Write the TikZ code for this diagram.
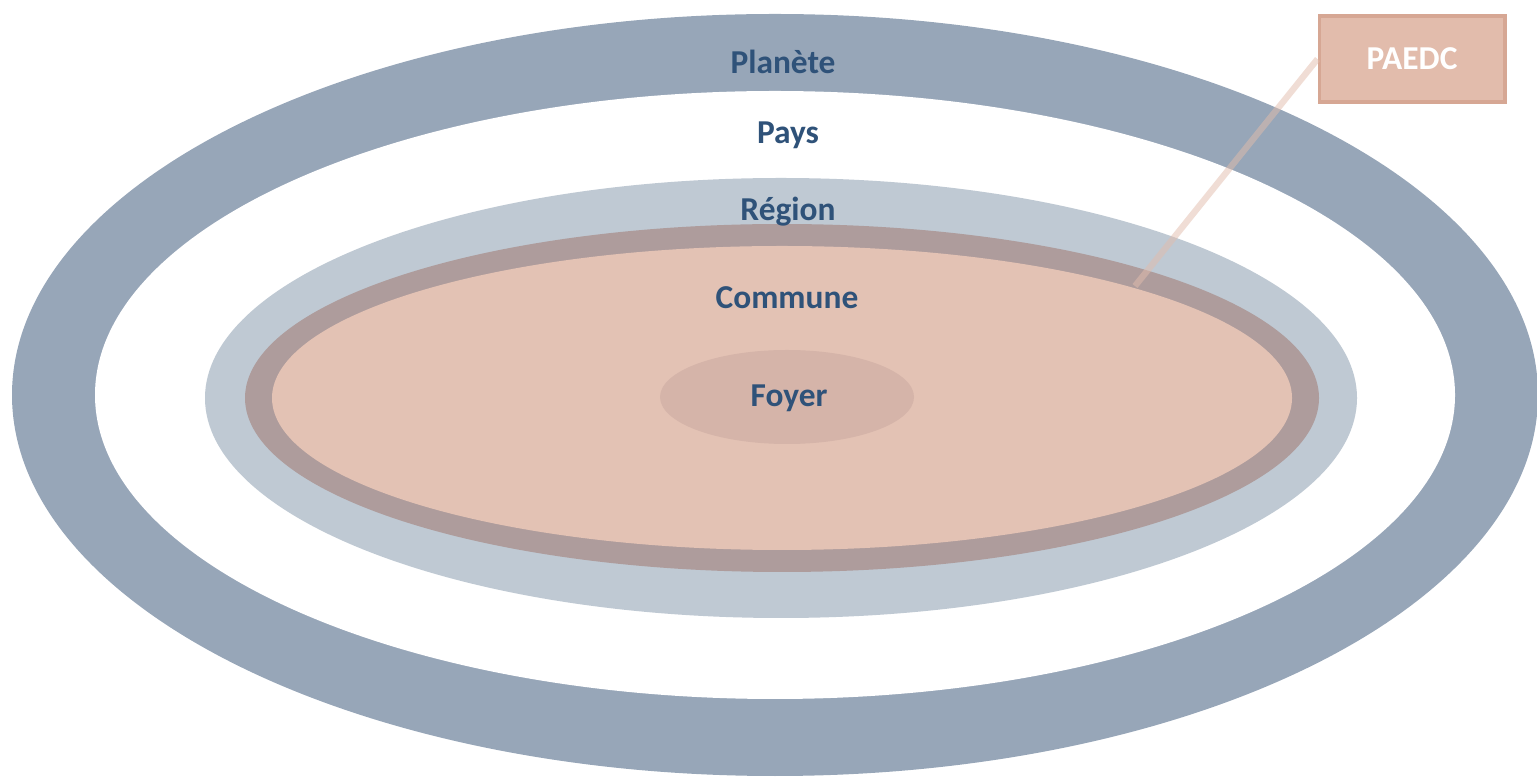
\documentclass[tikz,border=0pt]{standalone}
\usepackage{fontspec}
\setmainfont{Carlito}
\usepackage{tikz}
\usetikzlibrary{positioning}

\definecolor{planetblue}{HTML}{97A6B8}
\definecolor{regionblue}{HTML}{BFC9D3}
\definecolor{communering}{HTML}{AE9C9C}
\definecolor{communefill}{HTML}{E3C2B4}
\definecolor{foyerfill}{HTML}{D5B4A9}
\definecolor{labelblue}{HTML}{2F5279}
\definecolor{paedcfill}{HTML}{E2BCAC}
\definecolor{paedcedge}{HTML}{D6A794}

\tikzset{
	level/.style={font=\bfseries\fontsize{9.5}{11}\selectfont, text=labelblue},
	tag/.style={font=\bfseries\fontsize{9.5}{11}\selectfont, text=white,
		fill=paedcfill, draw=paedcedge, line width=1.1pt,
		minimum width=1.85cm, minimum height=0.86cm}
}

\begin{document}
\begin{tikzpicture}[x=0.01cm, y=-0.01cm]
		\useasboundingbox (0, 0) rectangle (1537, 777);
		% draw planet band
		\fill [planetblue] (775, 395) ellipse [x radius=763, y radius=381];
		\fill [white] (775, 395) ellipse [x radius=680, y radius=304];
		% draw region
		\fill [regionblue] (781, 398) ellipse [x radius=576, y radius=220];
		% draw commune
		\fill [communering] (782, 398) ellipse [x radius=537, y radius=174];
		\fill [communefill] (782, 398) ellipse [x radius=510, y radius=152];
		% draw household
		\fill [foyerfill] (787, 397) ellipse [x radius=127, y radius=47];
		% draw labels
		\node [level] (planete) at (783, 62) {Planète};
		\node [level] (pays) at (788, 135) {Pays};
		\node [level] (region) at (788, 212) {Région};
		\node [level] (commune) at (787, 298) {Commune};
		\node [level] (foyer) at (789, 398) {Foyer};
		% draw plan box and pointer
		\node [tag] (paedc) at (1412, 59) {PAEDC};
		\coordinate (target) at (1135, 286);
		\draw [paedcfill, opacity=.5, line width=1.8pt] (paedc.west) -- (target);
	\end{tikzpicture}
\end{document}
